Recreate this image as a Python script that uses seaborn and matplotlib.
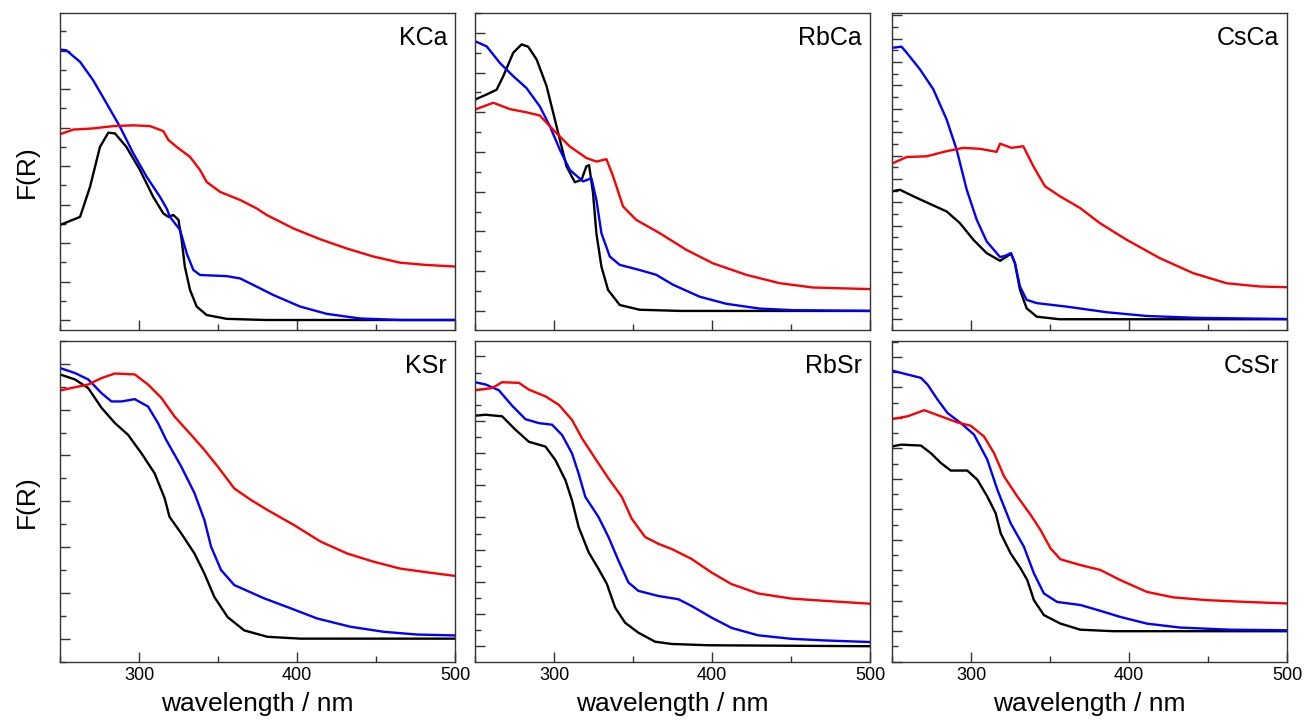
import numpy as np
import pandas as pd
import matplotlib
matplotlib.use('Agg')
import matplotlib.pyplot as plt
from matplotlib.ticker import MultipleLocator, NullFormatter
import seaborn as sns

# ---- KCa ----
kca_black_wl = [250, 262.7, 269, 275.3, 280.6, 284.8, 292, 300.6, 309, 315.4, 318.6, 321.7, 325, 327, 329, 332.3, 336.5, 342.8, 355.5, 380, 500]
kca_black = [2.47, 2.68, 3.46, 4.50, 4.87, 4.85, 4.50, 3.90, 3.20, 2.77, 2.68, 2.73, 2.60, 2.08, 1.39, 0.78, 0.35, 0.13, 0.03, 0.0, 0.0]
kca_blue_wl = [250, 254, 262.7, 271, 279.5, 288, 296.4, 304.9, 313.3, 317.5, 319.6, 326, 330.2, 334.4, 338.6, 355.5, 364, 372.4, 385, 401.9, 418.8, 439.9, 465, 500]
kca_blue = [7.03, 7.01, 6.71, 6.23, 5.63, 5.02, 4.33, 3.72, 3.20, 2.90, 2.68, 2.34, 1.73, 1.30, 1.17, 1.14, 1.08, 0.91, 0.65, 0.35, 0.16, 0.04, 0.0, 0.0]
kca_red_wl = [250, 258.4, 271, 283.8, 296.4, 307, 315.4, 318.6, 323.8, 332.3, 338.6, 342.8, 351.3, 364, 374.5, 380.8, 397.7, 414.6, 431.4, 448.3, 465.2, 482, 500]
kca_red = [4.83, 4.95, 4.98, 5.04, 5.06, 5.04, 4.91, 4.68, 4.50, 4.24, 3.90, 3.59, 3.33, 3.12, 2.90, 2.73, 2.38, 2.10, 1.86, 1.65, 1.49, 1.43, 1.39]

# ---- RbCa ----
rbca_black_wl = [250, 257.4, 263.7, 267.9, 274.2, 279.5, 283.7, 289, 295.3, 301.6, 307.9, 313.2, 317.4, 320.5, 322.2, 324.7, 326.8, 330, 334.2, 341.6, 354.2, 380, 500]
rbca_black = [5.32, 5.45, 5.57, 5.91, 6.50, 6.71, 6.65, 6.33, 5.66, 4.65, 3.64, 3.24, 3.30, 3.64, 3.67, 2.97, 1.96, 1.12, 0.53, 0.15, 0.03, 0.0, 0.0]
rbca_blue_wl = [250, 257.4, 265.8, 274.2, 282.6, 291, 297.4, 303.7, 310, 318.4, 323.7, 326.8, 330, 335.3, 341.6, 354.2, 364.7, 375.3, 392.1, 409, 430, 451, 500]
rbca_blue = [6.79, 6.66, 6.24, 5.91, 5.61, 5.15, 4.65, 4.06, 3.55, 3.26, 3.34, 2.80, 1.96, 1.37, 1.16, 1.03, 0.91, 0.66, 0.36, 0.18, 0.06, 0.02, 0.0]
rbca_red_wl = [250, 261.6, 272.1, 282.6, 291, 299.5, 310, 320.5, 326.8, 333.2, 337.4, 343.7, 352.1, 366.8, 383.7, 400.5, 421.6, 442.6, 463.7, 500]
rbca_red = [5.07, 5.24, 5.08, 5.00, 4.92, 4.56, 4.14, 3.85, 3.76, 3.82, 3.39, 2.63, 2.29, 1.96, 1.54, 1.20, 0.91, 0.70, 0.59, 0.55]

# ---- CsCa ----
csca_black_wl = [250, 255, 263.5, 271.9, 284.6, 293, 301.5, 309.9, 318.4, 325.3, 327.8, 331, 335.2, 341.6, 356, 500]
csca_black = [5.47, 5.54, 5.26, 5.00, 4.61, 4.11, 3.40, 2.83, 2.50, 2.80, 2.40, 1.26, 0.47, 0.11, 0.0, 0.0]
csca_blue_wl = [250, 256, 259.3, 267.7, 276.2, 284.6, 290.9, 297.3, 303.6, 309.9, 318.4, 321.5, 325.3, 327.8, 331, 335.2, 341.6, 360.5, 385.9, 411.2, 442.8, 500]
csca_blue = [11.61, 11.66, 11.40, 10.69, 9.83, 8.54, 7.26, 5.54, 4.26, 3.33, 2.66, 2.71, 2.83, 2.40, 1.40, 0.83, 0.69, 0.54, 0.30, 0.14, 0.06, 0.01]
csca_red_wl = [250, 259.3, 271.9, 284.6, 295.1, 305.7, 316.2, 318.4, 325.7, 333.1, 339.5, 346.8, 356.3, 369, 381.6, 398.5, 419.6, 440.7, 461.8, 482.9, 500]
csca_red = [6.66, 6.94, 6.97, 7.19, 7.33, 7.29, 7.16, 7.51, 7.33, 7.40, 6.54, 5.69, 5.26, 4.76, 4.11, 3.40, 2.61, 1.97, 1.54, 1.40, 1.37]

# ---- KSr ----
ksr_black_wl = [250, 259.5, 267.9, 276.3, 284.7, 293.1, 301.5, 309.9, 316.2, 319.3, 326.7, 335.1, 341.4, 347.7, 356.1, 366.6, 381.3, 402.3, 500]
ksr_black = [5.77, 5.66, 5.47, 5.04, 4.71, 4.45, 4.05, 3.61, 3.07, 2.66, 2.30, 1.86, 1.42, 0.91, 0.47, 0.18, 0.04, 0.0, 0.0]
ksr_blue_wl = [250, 259.5, 267.9, 276.3, 282.6, 288.9, 297.3, 305.7, 312, 317.2, 326.7, 335.1, 341.4, 345.6, 351.9, 360.3, 379.2, 393.9, 412.8, 433.8, 454.8, 475.8, 500]
ksr_blue = [5.91, 5.80, 5.66, 5.36, 5.18, 5.18, 5.23, 5.07, 4.71, 4.34, 3.76, 3.18, 2.59, 2.01, 1.50, 1.17, 0.88, 0.69, 0.44, 0.26, 0.15, 0.09, 0.07]
ksr_red_wl = [250, 259.5, 267.9, 276.3, 284.7, 297.3, 305.7, 314.1, 322.5, 333, 341.4, 349.8, 360.3, 370.8, 381.3, 398.1, 414.9, 431.7, 448.5, 465.3, 482.1, 500]
ksr_red = [5.42, 5.49, 5.55, 5.69, 5.79, 5.77, 5.55, 5.26, 4.85, 4.45, 4.12, 3.76, 3.28, 3.03, 2.81, 2.48, 2.12, 1.86, 1.68, 1.53, 1.45, 1.37]

# ---- RbSr ----
rbsr_black_wl = [250, 256.7, 267.2, 275.7, 284.1, 294.6, 300.9, 307.2, 311.4, 315.6, 321.9, 328.2, 333.5, 338.7, 345, 353.4, 364, 374.5, 397.6, 500]
rbsr_black = [7.16, 7.19, 7.14, 6.72, 6.35, 6.20, 5.78, 5.16, 4.53, 3.70, 2.92, 2.40, 1.93, 1.20, 0.73, 0.42, 0.14, 0.07, 0.03, 0.0]
rbsr_blue_wl = [250, 256.7, 265.1, 273.5, 282, 290.4, 298.8, 305.1, 311.4, 315.6, 319.8, 328.2, 334.5, 340.8, 347.1, 353.4, 366.1, 378.7, 387.1, 399.7, 412.3, 429.1, 450.2, 471.2, 500]
rbsr_blue = [8.20, 8.13, 7.95, 7.47, 7.05, 6.93, 6.88, 6.56, 5.99, 5.36, 4.64, 4.01, 3.39, 2.66, 1.98, 1.72, 1.56, 1.46, 1.25, 0.89, 0.57, 0.34, 0.23, 0.18, 0.13]
rbsr_red_wl = [250, 260.9, 267.2, 277.8, 284.1, 294.6, 303, 311.4, 317.7, 326.1, 334.5, 342.9, 349.2, 357.7, 366.1, 374.5, 387.1, 399.7, 412.3, 429.1, 450.2, 471.2, 500]
rbsr_red = [7.95, 8.02, 8.20, 8.18, 7.97, 7.76, 7.50, 7.03, 6.46, 5.83, 5.21, 4.64, 3.96, 3.39, 3.18, 3.02, 2.71, 2.29, 1.93, 1.64, 1.48, 1.41, 1.32]

# ---- CsSr ----
cssr_black_wl = [250, 255.7, 268.3, 274.6, 280.9, 287.2, 297.7, 304, 310.3, 315.6, 318.8, 325.1, 331.4, 335.6, 339.8, 346.1, 356.6, 369.2, 390.2, 500]
cssr_black = [6.06, 6.12, 6.09, 5.84, 5.52, 5.27, 5.27, 4.97, 4.42, 3.87, 3.21, 2.55, 2.06, 1.68, 1.02, 0.53, 0.25, 0.05, 0.0, 0.0]
cssr_blue_wl = [250, 259.9, 268.3, 272.5, 278.8, 285.1, 293.5, 301.9, 310.3, 316.7, 325.1, 333.5, 339.8, 346.1, 354.5, 369.2, 381.8, 394.4, 411.3, 432.3, 463.8, 500]
cssr_blue = [8.55, 8.42, 8.31, 8.09, 7.60, 7.16, 6.83, 6.45, 5.63, 4.64, 3.54, 2.77, 1.90, 1.24, 0.96, 0.86, 0.67, 0.47, 0.25, 0.12, 0.05, 0.03]
cssr_red_wl = [250, 259.9, 270.4, 280.9, 291.4, 299.8, 308.2, 314.6, 320.9, 329.3, 337.7, 344, 350.3, 356.6, 369.2, 381.8, 394.4, 411.3, 428.1, 449.1, 474.3, 500]
cssr_red = [6.96, 7.05, 7.25, 7.05, 6.85, 6.74, 6.39, 5.84, 5.08, 4.42, 3.82, 3.32, 2.72, 2.36, 2.17, 2.01, 1.68, 1.29, 1.11, 1.02, 0.96, 0.91]

panel_names = ['KCa', 'RbCa', 'CsCa', 'KSr', 'RbSr', 'CsSr']
panel_series = [
    [(kca_black_wl, kca_black), (kca_blue_wl, kca_blue), (kca_red_wl, kca_red)],
    [(rbca_black_wl, rbca_black), (rbca_blue_wl, rbca_blue), (rbca_red_wl, rbca_red)],
    [(csca_black_wl, csca_black), (csca_blue_wl, csca_blue), (csca_red_wl, csca_red)],
    [(ksr_black_wl, ksr_black), (ksr_blue_wl, ksr_blue), (ksr_red_wl, ksr_red)],
    [(rbsr_black_wl, rbsr_black), (rbsr_blue_wl, rbsr_blue), (rbsr_red_wl, rbsr_red)],
    [(cssr_black_wl, cssr_black), (cssr_blue_wl, cssr_blue), (cssr_red_wl, cssr_red)],
]
panel_ylims = [(-0.26, 7.98), (-0.48, 7.50), (-0.46, 13.1), (-0.51, 6.5), (-0.49, 9.48), (-1.01, 9.52)]
line_colors = ['black', '#0000ff', '#ff0000']

sns.set_style('ticks')
plt.rcParams['font.family'] = ['Liberation Sans', 'DejaVu Sans']
plt.rcParams['axes.edgecolor'] = '#333333'
plt.rcParams['axes.linewidth'] = 1.0
plt.rcParams['text.color'] = 'black'
plt.rcParams['axes.labelcolor'] = 'black'
plt.rcParams['xtick.labelcolor'] = 'black'

fig = plt.figure(figsize=(13.04, 7.24), dpi=100)
W, H = 1304, 724
lefts = [60, 475, 892]
width = 395
rows = [(13, 330), (341, 662)]

for i, name in enumerate(panel_names):
    r, c = divmod(i, 3)
    top, bot = rows[r]
    ax = fig.add_axes([lefts[c] / W, 1 - bot / H, width / W, (bot - top) / H])
    for (wl, val), col in zip(panel_series[i], line_colors):
        df = pd.DataFrame({'wl': wl, 'F': val})
        sns.lineplot(data=df, x='wl', y='F', color=col, lw=1.7, ax=ax)
    ax.set_xlim(250, 500)
    ax.set_ylim(*panel_ylims[i])
    ax.xaxis.set_major_locator(MultipleLocator(100))
    ax.xaxis.set_minor_locator(MultipleLocator(50))
    ax.yaxis.set_major_locator(MultipleLocator(1))
    ax.yaxis.set_minor_locator(MultipleLocator(0.5))
    ax.yaxis.set_major_formatter(NullFormatter())
    ax.tick_params(which='major', direction='in', length=7, width=1, color='#333333', labelsize=13)
    ax.tick_params(which='minor', direction='in', length=4, width=1, color='#333333')
    ax.set_ylabel('')
    if r == 0:
        ax.xaxis.set_major_formatter(NullFormatter())
        ax.set_xlabel('')
    else:
        ax.set_xlabel('wavelength / nm', fontsize=19, labelpad=6)
    if c == 0:
        ax.set_ylabel('F(R)', fontsize=19, labelpad=12)
    for s in ax.spines.values():
        s.set_visible(True)
        s.set_color('#333333')
    ax.text(0.98, 0.96, name, transform=ax.transAxes, ha='right', va='top', fontsize=18)

fig.savefig('out.png', dpi=100)
